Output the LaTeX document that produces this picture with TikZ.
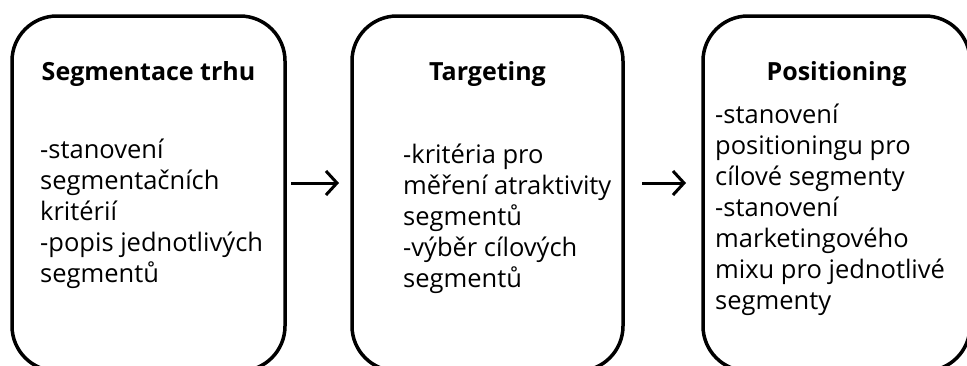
\documentclass[tikz,border=0pt]{standalone}
\usepackage{fontspec}
\setmainfont{Open Sans}
\usetikzlibrary{arrows.meta, positioning}

\begin{document}
\begin{tikzpicture}[
    x=1pt, y=-1pt,
    phase/.style={rectangle, draw, line width=3.5pt, rounded corners=45pt, minimum height=355pt, inner sep=0pt, outer sep=0pt},
    heading/.style={font=\fontsize{25}{31}\selectfont\bfseries, anchor=base, inner sep=0pt},
    bullets/.style={font=\fontsize{25.5}{31}\selectfont, align=left, anchor=base west, inner sep=0pt},
    arrow/.style={line width=3pt, -{Straight Barb[length=11pt, width=24pt]}},
]
    \clip (0,0) rectangle (967,365);
    % Phases
    \node[phase, minimum width=273pt] (seg) at (148.5,193.5) {};
    \node[phase, minimum width=271pt] (tgt) at (487.5,193.5) {};
    \node[phase, minimum width=267pt] (pos) at (836.5,193.5) {};

    % Headings
    \node[heading] (segtitle) at ([yshift=-64pt]seg.north) {Segmentace trhu};
    \node[heading] (tgttitle) at ([yshift=-64pt]tgt.north) {Targeting};
    \node[heading] (postitle) at ([yshift=-64pt]pos.north) {Positioning};

    % Contents (anchored at the last line)
    \node[bullets] (segtext) at ([xshift=28pt, yshift=-266pt]seg.north west)
        {-stanovení\\segmentačních\\kritérií\\-popis jednotlivých\\segmentů};
    \node[bullets] (tgttext) at ([xshift=51pt, yshift=-271pt]tgt.north west)
        {-kritéria pro\\měření atraktivity\\segmentů\\-výběr cílových\\segmentů};
    \node[bullets] (postext) at ([xshift=12pt, yshift=-293pt]pos.north west)
        {-stanovení\\positioningu pro\\cílové segmenty\\-stanovení\\marketingového\\mixu pro jednotlivé\\segmenty};

    % Flow
    \draw[arrow, shorten <=6pt, shorten >=13pt] ([yshift=10.5pt]seg.east) -- ([yshift=10.5pt]tgt.west);
    \draw[arrow, shorten <=19pt, shorten >=17pt] ([yshift=10.5pt]tgt.east) -- ([yshift=10.5pt]pos.west);
\end{tikzpicture}
\end{document}
